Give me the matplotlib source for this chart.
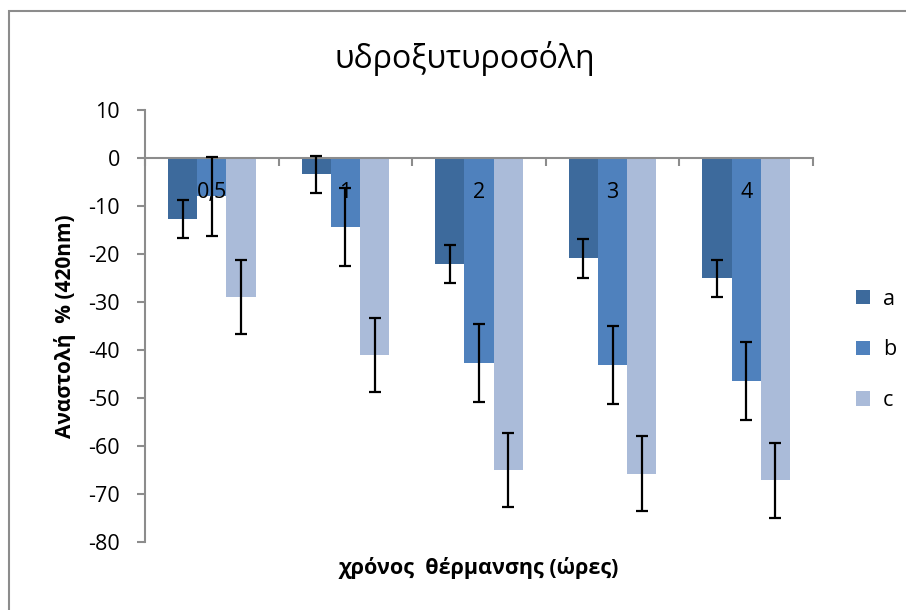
import numpy as np
import matplotlib.pyplot as plt
from matplotlib.patches import Rectangle

plt.rcParams['font.family'] = ['Open Sans', 'DejaVu Sans']
plt.rcParams['axes.unicode_minus'] = False

hours = ["0,5", "1", "2", "3", "4"]
series = ["a", "b", "c"]
colors = ["#3D6A9C", "#4F81BD", "#AABBD9"]

values_a = [-12.7, -3.4, -22.1, -20.9, -25.1]
values_b = [-8.0, -14.4, -42.7, -43.1, -46.5]
values_c = [-29.0, -41.1, -65.0, -65.8, -67.1]

err_a = [3.9, 3.9, 3.95, 4.0, 3.95]
err_b = [8.2, 8.15, 8.15, 8.15, 8.15]
err_c = [7.7, 7.75, 7.8, 7.8, 7.8]

values = [values_a, values_b, values_c]
errors = [err_a, err_b, err_c]

fig = plt.figure(figsize=(9.06, 6.10), dpi=100)
ax = fig.add_axes([145 / 906, 1 - 542 / 610, 668 / 906, 432 / 610])
ax.set_axisbelow(False)

# chart frame
fig.patches.append(Rectangle((9 / 906, -0.1), 1.2, 1 - 11 / 610 + 0.1,
                             transform=fig.transFigure, fill=False,
                             edgecolor="#8C8C8C", linewidth=1.5))

x = np.arange(len(hours))
width = 0.219
for i, vals in enumerate(values):
    ax.bar(x + (i - 1) * width, vals, width, color=colors[i], label=series[i],
           zorder=1)
for i, (vals, errs) in enumerate(zip(values, errors)):
    ax.errorbar(x + (i - 1) * width, vals, yerr=errs, fmt="none", ecolor="black",
                elinewidth=1.6, capsize=4.3, capthick=1.6, zorder=3)

ax.set_xlim(-0.5, len(hours) - 0.5)
ax.set_ylim(-80, 10)
ax.set_yticks(np.arange(-80, 11, 10))

ax.spines["top"].set_visible(False)
ax.spines["right"].set_visible(False)
ax.spines["bottom"].set_position(("data", 0))
for s in ("left", "bottom"):
    ax.spines[s].set_color("#8C8C8C")
    ax.spines[s].set_linewidth(1.5)

ax.tick_params(axis="y", direction="out", length=6, width=1.5, color="#8C8C8C",
               labelsize=15.5, pad=12)
ax.set_xticks(x)
ax.set_xticklabels(hours, fontsize=15.5)
ax.tick_params(axis="x", which="major", length=0, pad=17)
ax.set_xticks(np.arange(-0.5, len(hours), 1), minor=True)
ax.tick_params(axis="x", which="minor", direction="out", length=6, width=1.5,
               color="#8C8C8C")

fig.text(465 / 906, 1 - 58 / 610, "υδροξυτυροσόλη", fontsize=23,
         ha="center", va="center")
ax.set_ylabel("Αναστολή  % (420nm)", fontsize=15, fontweight="bold", labelpad=9)
fig.text(479 / 906, 1 - 568 / 610, "χρόνος  θέρμανσης (ώρες)", fontsize=15.5,
         fontweight="bold", ha="center", va="center")

ax.legend(loc="center left", bbox_to_anchor=(1.035, 0.445), frameon=False,
          fontsize=15.5, handlelength=0.65, handleheight=0.65, labelspacing=1.38,
          handletextpad=0.6)

fig.savefig("out.png", dpi=100)
